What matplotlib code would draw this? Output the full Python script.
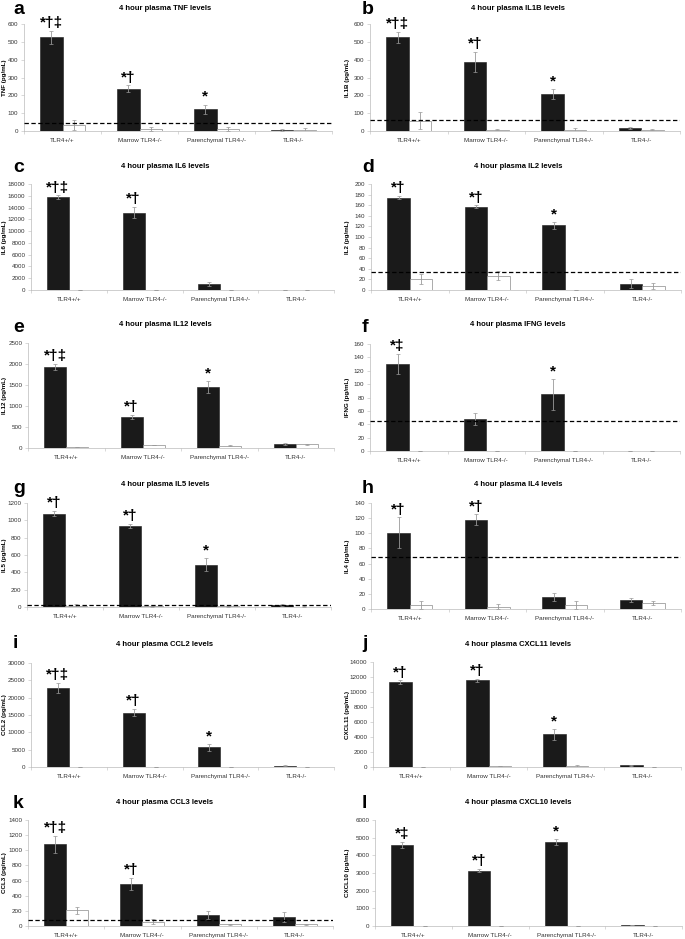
import matplotlib
matplotlib.use('Agg')
import matplotlib.pyplot as plt

plt.rcParams['font.family'] = ['Liberation Sans', 'DejaVu Sans']

groups = ['TLR4+/+', 'Marrow TLR4-/-', 'Parenchymal TLR4-/-', 'TLR4-/-']

# black = LPS, white = control; values in pg/mL
tnf_black = [525, 237, 123, 7]
tnf_black_err = [38, 19, 25, 5]
tnf_white = [35, 11, 13, 7]
tnf_white_err = [28, 9, 11, 10]

il1b_black = [525, 387, 207, 15]
il1b_black_err = [30, 56, 28, 5]
il1b_white = [58, 7, 7, 7]
il1b_white_err = [48, 4, 12, 3]

il6_black = [15750, 13150, 1000, 20]
il6_black_err = [300, 950, 280, 10]
il6_white = [20, 20, 10, 10]
il6_white_err = [0, 0, 0, 0]

il2_black = [174, 157, 122, 12]
il2_black_err = [3, 3, 6, 9]
il2_white = [21, 27, 0, 7]
il2_white_err = [10, 8, 0, 6]

il12_black = [1937, 738, 1452, 103]
il12_black_err = [70, 48, 150, 24]
il12_white = [24, 71, 55, 87]
il12_white_err = [5, 10, 15, 10]

ifng_black = [130, 48, 85, 0]
ifng_black_err = [15, 9, 23, 0]
ifng_white = [0, 0, 0, 0]
ifng_white_err = [0, 0, 0, 0]

il5_black = [1077, 935, 490, 22]
il5_black_err = [30, 27, 70, 8]
il5_white = [12, 8, 8, 5]
il5_white_err = [25, 5, 5, 3]

il4_black = [101, 118, 16, 12]
il4_black_err = [20, 7, 5, 3]
il4_white = [5, 3, 5, 8]
il4_white_err = [5, 3, 5, 3]

ccl2_black = [22800, 15700, 5700, 350]
ccl2_black_err = [1500, 1100, 1000, 200]
ccl2_white = [100, 0, 0, 0]
ccl2_white_err = [0, 0, 0, 0]

cxcl11_black = [11300, 11550, 4350, 220]
cxcl11_black_err = [270, 220, 700, 100]
cxcl11_white = [0, 130, 130, 0]
cxcl11_white_err = [0, 50, 200, 0]

ccl3_black = [1078, 557, 146, 119]
ccl3_black_err = [110, 80, 53, 71]
ccl3_white = [208, 57, 22, 22]
ccl3_white_err = [44, 35, 10, 5]

cxcl10_black = [4590, 3140, 4750, 30]
cxcl10_black_err = [190, 110, 190, 0]
cxcl10_white = [20, 20, 20, 0]
cxcl10_white_err = [0, 0, 0, 0]

# detection limits (dashed lines), None when absent
limits = [45, 62, None, 34, None, 45, 28, 69, None, None, 84, None]
ymaxes = [600, 600, 18000, 200, 2500, 160, 1200, 140, 30000, 14000, 1400, 6000]
ysteps = [100, 100, 2000, 20, 500, 20, 200, 20, 5000, 2000, 200, 1000]
names = ['TNF', 'IL1B', 'IL6', 'IL2', 'IL12', 'IFNG', 'IL5', 'IL4',
         'CCL2', 'CXCL11', 'CCL3', 'CXCL10']
letters = list('abcdefghijkl')
marks = [
    ['*†‡', '*†', '*', ''],
    ['*†‡', '*†', '*', ''],
    ['*†‡', '*†', '', ''],
    ['*†', '*†', '*', ''],
    ['*†‡', '*†', '*', ''],
    ['*‡', '', '*', ''],
    ['*†', '*†', '*', ''],
    ['*†', '*†', '', ''],
    ['*†‡', '*†', '*', ''],
    ['*†', '*†', '*', ''],
    ['*†‡', '*†', '', ''],
    ['*‡', '*†', '*', ''],
]
black = [tnf_black, il1b_black, il6_black, il2_black, il12_black, ifng_black,
         il5_black, il4_black, ccl2_black, cxcl11_black, ccl3_black, cxcl10_black]
black_err = [tnf_black_err, il1b_black_err, il6_black_err, il2_black_err,
             il12_black_err, ifng_black_err, il5_black_err, il4_black_err,
             ccl2_black_err, cxcl11_black_err, ccl3_black_err, cxcl10_black_err]
white = [tnf_white, il1b_white, il6_white, il2_white, il12_white, ifng_white,
         il5_white, il4_white, ccl2_white, cxcl11_white, ccl3_white, cxcl10_white]
white_err = [tnf_white_err, il1b_white_err, il6_white_err, il2_white_err,
             il12_white_err, ifng_white_err, il5_white_err, il4_white_err,
             ccl2_white_err, cxcl11_white_err, ccl3_white_err, cxcl10_white_err]

W, H = 685, 939
# pixel boxes: (left, right, top, bottom)
boxes = [
    (24, 332, 24, 131), (370, 680, 24, 131),
    (31, 334, 184, 290), (371, 681, 184, 290),
    (28, 334, 343, 448), (370, 680, 344, 451),
    (27, 331, 503, 607), (371, 681, 503, 609),
    (31, 334, 663, 767), (373, 681, 662, 767),
    (28, 333, 820, 926), (375, 682, 820, 926),
]
title_y = [8, 8, 167, 167, 325, 325, 485, 485, 645, 645, 803, 803]
letter_y = [9, 9, 168, 168, 328, 328, 488, 488, 644, 644, 804, 804]

fig = plt.figure(figsize=(W / 100, H / 100), dpi=100)
x = list(range(4))
bw = 0.29

for i in range(12):
    l, r, t, b = boxes[i]
    ax = fig.add_axes([l / W, 1 - b / H, (r - l) / W, (b - t) / H])
    xb = [k - bw / 2 for k in x]
    xw = [k + bw / 2 for k in x]
    ax.bar(xb, black[i], bw, color='#1a1a1a', edgecolor='#1a1a1a', lw=0.4, zorder=2)
    ax.bar(xw, white[i], bw, color='white', edgecolor='#8a8a8a', lw=0.5, zorder=2)
    ax.errorbar(xb, black[i], yerr=black_err[i], fmt='none', ecolor='#999999',
                elinewidth=0.6, capsize=1.2, capthick=0.5, zorder=3)
    ax.errorbar(xw, white[i], yerr=white_err[i], fmt='none', ecolor='#999999',
                elinewidth=0.6, capsize=1.2, capthick=0.5, zorder=3)
    if limits[i] is not None:
        ax.axhline(limits[i], color='black', lw=0.9, ls=(0, (3.5, 2)), zorder=4)
    for k in range(4):
        if marks[i][k]:
            ax.annotate(marks[i][k], (xb[k], black[i][k] + black_err[i][k]),
                        xytext=(0, 0.5), textcoords='offset points',
                        ha='center', va='bottom', fontsize=11, fontweight='bold')
    ax.set_xlim(-0.5, 3.5)
    ax.set_ylim(0, ymaxes[i])
    ax.set_yticks(range(0, ymaxes[i] + 1, ysteps[i]))
    ax.set_xticks(x)
    ax.set_xticklabels(groups)
    ax.set_xticks([-0.5, 0.5, 1.5, 2.5, 3.5], minor=True)
    ax.tick_params(axis='x', which='major', length=0, pad=5, labelsize=4.5,
                   labelcolor='#333333')
    ax.tick_params(axis='x', which='minor', length=2, width=0.4, color='#bbbbbb')
    ax.tick_params(axis='y', length=2, width=0.4, color='#bbbbbb', pad=2,
                   labelsize=4.5, labelcolor='#333333')
    for s in ['top', 'right']:
        ax.spines[s].set_visible(False)
    for s in ['left', 'bottom']:
        ax.spines[s].set_color('#bbbbbb')
        ax.spines[s].set_linewidth(0.5)
    ax.patch.set_alpha(0)

    col = i % 2
    tx = 165 if col == 0 else 518
    fig.text(tx / W, 1 - title_y[i] / H, '4 hour plasma %s levels' % names[i],
             ha='center', va='center', fontsize=5.5, fontweight='bold')
    lx = 13 if col == 0 else 362
    fig.text(lx / W, 1 - letter_y[i] / H, letters[i], ha='left', va='center',
             fontsize=14, fontweight='bold')
    yx = 5 if col == 0 else 347
    fig.text(yx / W, 1 - (t + b) / 2 / H, '%s (pg/mL)' % names[i], rotation=90,
             ha='center', va='center', fontsize=4.5, fontweight='bold')

fig.savefig('out.png', dpi=100)
